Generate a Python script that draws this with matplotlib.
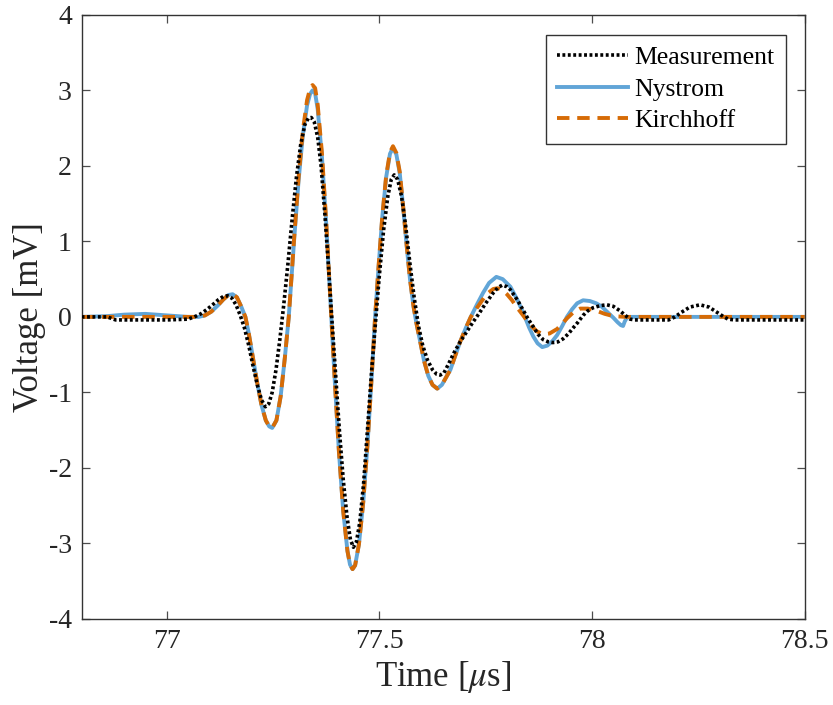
import matplotlib
matplotlib.use("Agg")
import matplotlib.pyplot as plt

# time [us], voltage [mV]
meas_t = [76.80, 76.86, 76.88, 77.00, 77.05, 77.065, 77.08, 77.095, 77.11, 77.122,
          77.133, 77.143, 77.153, 77.163, 77.173, 77.183, 77.193, 77.203, 77.213, 77.223,
          77.232, 77.24, 77.248, 77.257, 77.266, 77.275, 77.285, 77.295, 77.305, 77.315,
          77.325, 77.333, 77.34, 77.347, 77.355, 77.363, 77.372, 77.38, 77.388, 77.397,
          77.406, 77.415, 77.424, 77.432, 77.439, 77.446, 77.454, 77.463, 77.472, 77.482,
          77.492, 77.50, 77.51, 77.52, 77.528, 77.535, 77.543, 77.552, 77.562, 77.572,
          77.582, 77.592, 77.602, 77.613, 77.625, 77.635, 77.643, 77.652, 77.662, 77.675,
          77.69, 77.705, 77.72, 77.735, 77.75, 77.768, 77.779, 77.789, 77.80, 77.808,
          77.825, 77.838, 77.85, 77.862, 77.873, 77.885, 77.897, 77.908, 77.92, 77.932,
          77.945, 77.955, 77.967, 77.979, 77.99, 78.002, 78.02, 78.035, 78.05, 78.066,
          78.078, 78.09, 78.10, 78.18, 78.195, 78.21, 78.23, 78.254, 78.275, 78.294,
          78.31, 78.32, 78.335, 78.50]
meas_v = [0.00, 0.00, -0.04, -0.04, -0.03, 0.00, 0.04, 0.10, 0.17, 0.23,
          0.27, 0.28, 0.25, 0.16, 0.02, -0.15, -0.38, -0.65, -0.90, -1.10,
          -1.19, -1.15, -1.00, -0.70, -0.30, 0.15, 0.70, 1.30, 1.85, 2.28,
          2.55, 2.63, 2.64, 2.58, 2.38, 2.00, 1.35, 0.70, 0.00, -0.75,
          -1.50, -2.15, -2.65, -2.95, -3.05, -2.98, -2.72, -2.20, -1.50, -0.70,
          0.00, 0.55, 1.15, 1.60, 1.82, 1.88, 1.82, 1.60, 1.20, 0.70,
          0.25, -0.12, -0.38, -0.57, -0.70, -0.76, -0.77, -0.74, -0.63, -0.48,
          -0.33, -0.20, -0.07, 0.05, 0.18, 0.32, 0.39, 0.42, 0.40, 0.36,
          0.22, 0.09, -0.03, -0.13, -0.23, -0.30, -0.33, -0.34, -0.33, -0.29,
          -0.22, -0.15, -0.07, 0.02, 0.08, 0.12, 0.15, 0.16, 0.14, 0.08,
          0.02, -0.03, -0.04, -0.04, 0.00, 0.06, 0.13, 0.16, 0.13, 0.06,
          0.00, -0.03, -0.04, -0.04]

nys_t = [76.80, 76.86, 76.90, 76.95, 77.00, 77.05, 77.075, 77.09, 77.105, 77.12,
         77.133, 77.145, 77.155, 77.165, 77.175, 77.185, 77.193, 77.203, 77.213, 77.223,
         77.233, 77.241, 77.248, 77.258, 77.268, 77.278, 77.287, 77.30, 77.31, 77.32,
         77.33, 77.337, 77.343, 77.349, 77.355, 77.365, 77.375, 77.382, 77.387, 77.395,
         77.405, 77.415, 77.425, 77.431, 77.437, 77.443, 77.452, 77.462, 77.472, 77.482,
         77.49, 77.498, 77.507, 77.516, 77.525, 77.532, 77.54, 77.548, 77.556, 77.564,
         77.572, 77.58, 77.587, 77.595, 77.605, 77.615, 77.625, 77.636, 77.647, 77.657,
         77.667, 77.678, 77.69, 77.703, 77.715, 77.73, 77.744, 77.758, 77.775, 77.79,
         77.808, 77.825, 77.84, 77.852, 77.862, 77.872, 77.883, 77.895, 77.907, 77.918,
         77.93, 77.941, 77.953, 77.965, 77.979, 77.995, 78.01, 78.022, 78.035, 78.05,
         78.06, 78.068, 78.073, 78.077, 78.082, 78.09, 78.50]
nys_v = [0.00, 0.01, 0.03, 0.04, 0.02, 0.00, 0.00, 0.02, 0.07, 0.15,
         0.23, 0.29, 0.30, 0.26, 0.14, 0.00, -0.22, -0.55, -0.88, -1.17,
         -1.37, -1.45, -1.47, -1.37, -1.05, -0.53, 0.00, 1.05, 1.80, 2.40,
         2.80, 2.95, 3.00, 2.96, 2.75, 2.12, 1.24, 0.52, 0.00, -0.83,
         -1.79, -2.57, -3.10, -3.28, -3.34, -3.29, -3.01, -2.46, -1.70, -0.79,
         0.00, 0.65, 1.33, 1.85, 2.16, 2.24, 2.15, 1.90, 1.45, 0.95,
         0.50, 0.15, -0.08, -0.30, -0.58, -0.78, -0.90, -0.95, -0.90, -0.80,
         -0.70, -0.52, -0.33, -0.15, 0.00, 0.17, 0.32, 0.45, 0.53, 0.50,
         0.40, 0.22, 0.03, -0.14, -0.26, -0.35, -0.40, -0.38, -0.32, -0.24,
         -0.12, 0.00, 0.10, 0.18, 0.22, 0.21, 0.18, 0.14, 0.07, -0.01,
         -0.07, -0.11, -0.12, -0.06, -0.01, 0.00, 0.00]

kir_t = [76.80, 77.05, 77.075, 77.09, 77.105, 77.12, 77.133, 77.145, 77.155, 77.165,
         77.175, 77.185, 77.193, 77.203, 77.213, 77.223, 77.233, 77.241, 77.248, 77.258,
         77.268, 77.278, 77.287, 77.30, 77.31, 77.32, 77.33, 77.337, 77.343, 77.349,
         77.355, 77.365, 77.375, 77.382, 77.387, 77.395, 77.405, 77.415, 77.425, 77.431,
         77.437, 77.443, 77.452, 77.462, 77.472, 77.482, 77.49, 77.498, 77.507, 77.516,
         77.525, 77.532, 77.54, 77.548, 77.556, 77.564, 77.572, 77.58, 77.587, 77.595,
         77.605, 77.615, 77.625, 77.636, 77.647, 77.657, 77.667, 77.678, 77.69, 77.703,
         77.715, 77.727, 77.737, 77.752, 77.768, 77.778, 77.79, 77.80, 77.812, 77.823,
         77.838, 77.854, 77.87, 77.885, 77.90, 77.918, 77.93, 77.941, 77.956, 77.972,
         77.99, 78.011, 78.03, 78.05, 78.08, 78.50]
kir_v = [0.00, 0.00, 0.00, 0.02, 0.07, 0.15, 0.23, 0.29, 0.30, 0.26,
         0.14, 0.00, -0.22, -0.55, -0.88, -1.17, -1.37, -1.45, -1.47, -1.37,
         -1.05, -0.53, 0.00, 1.07, 1.84, 2.46, 2.87, 3.02, 3.07, 3.03,
         2.81, 2.17, 1.27, 0.53, 0.00, -0.83, -1.79, -2.57, -3.10, -3.28,
         -3.34, -3.29, -3.01, -2.46, -1.70, -0.79, 0.00, 0.66, 1.34, 1.87,
         2.18, 2.26, 2.17, 1.92, 1.46, 0.96, 0.50, 0.15, -0.08, -0.30,
         -0.58, -0.78, -0.90, -0.95, -0.90, -0.80, -0.70, -0.52, -0.33, -0.15,
         0.00, 0.10, 0.18, 0.30, 0.37, 0.38, 0.35, 0.30, 0.22, 0.13,
         0.02, -0.10, -0.19, -0.23, -0.22, -0.16, -0.09, -0.02, 0.06, 0.11,
         0.11, 0.08, 0.04, 0.01, 0.00, 0.00]

plt.rcParams["font.family"] = ["Liberation Serif", "DejaVu Serif"]
plt.rcParams["mathtext.fontset"] = "stix"

fig = plt.figure(figsize=(8.33, 7.05), dpi=100)
ax = fig.add_axes([0.098, 0.122, 0.868, 0.857])

ax.plot(meas_t, meas_v, color="black", lw=2.6, linestyle=(0, (0.8, 0.7)),
        label="Measurement", zorder=4)
ax.plot(nys_t, nys_v, color="#61a5d7", lw=2.8, label="Nystrom", zorder=2)
ax.plot(kir_t, kir_v, color="#d66b06", lw=2.8, linestyle=(0, (3.2, 2.0)),
        label="Kirchhoff", zorder=3)

ax.set_xlim(76.8, 78.5)
ax.set_ylim(-4, 4)
ax.set_xticks([77, 77.5, 78, 78.5])
ax.set_xticklabels(["77", "77.5", "78", "78.5"])
ax.set_yticks(range(-4, 5))
ax.set_yticklabels([str(v) for v in range(-4, 5)])

ax.tick_params(direction="in", top=True, right=True, length=6, width=0.9,
               color="#4d4d4d", labelsize=20, labelcolor="#262626", pad=7)
for s in ax.spines.values():
    s.set_color("#333333")
    s.set_linewidth(1.0)

ax.set_xlabel(r"Time [$\mu$s]", fontsize=25, color="#262626", labelpad=4)
ax.set_ylabel("Voltage [mV]", fontsize=25, color="#262626", labelpad=2)

leg = ax.legend(loc="upper right", bbox_to_anchor=(0.974, 0.967), fontsize=18.5,
                handlelength=2.75, handletextpad=0.25, labelspacing=0.33,
                borderpad=0.45, borderaxespad=0, fancybox=False, framealpha=1)
leg.get_frame().set_edgecolor("#333333")
leg.get_frame().set_linewidth(1.0)

fig.savefig("out.png", dpi=100)
